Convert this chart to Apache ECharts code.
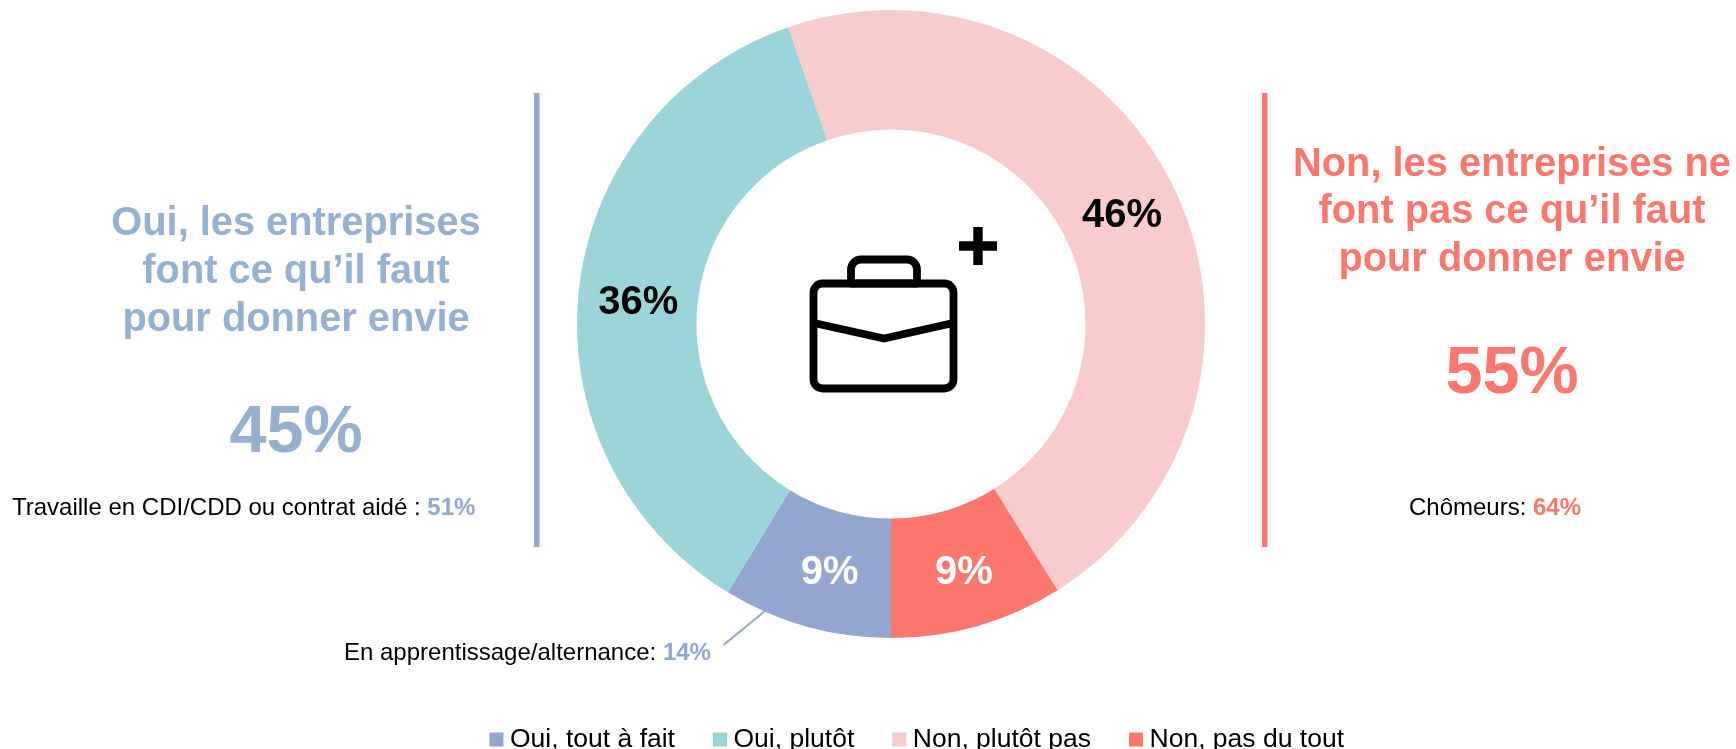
<!DOCTYPE html>
<html><head><meta charset="utf-8">
<style>html,body{margin:0;padding:0;background:#fff}#c{width:1736px;height:749px}</style>
<script src="https://cdn.jsdelivr.net/npm/echarts@6/dist/echarts.min.js"></script>
</head><body><div id="c"></div>
<script>
const categories = ['Oui, tout à fait', 'Oui, plutôt', 'Non, plutôt pas', 'Non, pas du tout'];
const values = [8.7, 36.0, 46.4, 8.9];
const colors = ['#92A6D0', '#9CD5D9', '#F8CBCC', '#FC786E'];
const labelColors = ['#fff', '#000', '#000', '#fff'];
const labelOffsets = [[8, 1], [3, 6], [-1, 3], [2, 2]];
const leftTitle = ['Oui, les entreprises', 'font ce qu’il faut', 'pour donner envie'];
const rightTitle = ['Non, les entreprises ne', 'font pas ce qu’il faut', 'pour donner envie'];
const BLUE = '#96B0CF', RED = '#FC786E', BAR_BLUE = '#92A6D0';
const FONT = '"Liberation Sans", Arial, sans-serif';

const chart = echarts.init(document.getElementById('c'), null, {renderer: 'canvas'});

function titleLines(lines, x, ys, color) {
  return lines.map((t, i) => ({type: 'text', x, y: ys[i], style: {text: t, fill: color,
    font: 'bold 39.8px ' + FONT, textAlign: 'center', textVerticalAlign: 'middle'}}));
}
function bigNum(t, x, y, color) {
  return {type: 'text', x, y, style: {text: t, fill: color, font: 'bold 66.5px ' + FONT, textAlign: 'center', textVerticalAlign: 'middle'}};
}
function sub(label, pct, x, y, color, align) {
  return {type: 'text', x, y, style: {
    text: '{a|' + label + '}{b|' + pct + '}', textAlign: align, textVerticalAlign: 'middle',
    rich: {a: {font: '24px ' + FONT, fill: '#000'}, b: {font: 'bold 24px ' + FONT, fill: color}}
  }};
}
const iconStroke = {stroke: '#000', lineWidth: 7.8, fill: null, lineJoin: 'round'};

chart.setOption({
  animation: false,
  backgroundColor: '#fff',
  legend: {
    data: categories, left: 484.5, top: 721, icon: 'rect', itemWidth: 14, itemHeight: 14, itemGap: 38,
    textStyle: {fontFamily: FONT, fontSize: 26.5, color: '#000', padding: [0, 0, 0, 1.5]}
  },
  series: [{
    type: 'pie', center: [891, 324], radius: [194.5, 314], startAngle: 270, clockwise: true,
    avoidLabelOverlap: false, silent: true,
    label: {position: 'inside', fontFamily: FONT, fontSize: 40, fontWeight: 'bold',
      formatter: p => Math.round(p.value) + '%'},
    labelLine: {show: false},
    data: categories.map((n, i) => ({name: n, value: values[i],
      itemStyle: {color: colors[i]}, label: {color: labelColors[i], offset: labelOffsets[i]}}))
  }],
  graphic: [
    {type: 'rect', shape: {x: 534, y: 93, width: 5.5, height: 454}, style: {fill: BAR_BLUE}},
    {type: 'rect', shape: {x: 1262, y: 93, width: 5.5, height: 454}, style: {fill: RED}},
    ...titleLines(leftTitle, 296, [224.5, 272.5, 320.5], BLUE),
    ...titleLines(rightTitle, 1512, [165, 212.5, 260.5], RED),
    bigNum('45%', 296, 434, BLUE),
    bigNum('55%', 1512, 375, RED),
    sub('Travaille en CDI/CDD ou contrat aidé : ', '51%', 12, 508, BAR_BLUE, 'left'),
    sub('Chômeurs: ', '64%', 1495, 508, RED, 'center'),
    sub('En apprentissage/alternance: ', '14%', 344, 653, BAR_BLUE, 'left'),
    {type: 'line', shape: {x1: 765, y1: 611, x2: 723.5, y2: 645}, style: {stroke: BAR_BLUE, lineWidth: 2}},
    // briefcase icon
    {type: 'rect', shape: {x: 813.5, y: 283.5, width: 140, height: 105, r: 9}, style: iconStroke},
    {type: 'rect', shape: {x: 851, y: 259.5, width: 66, height: 24, r: [10, 10, 0, 0]}, style: iconStroke},
    {type: 'polyline', shape: {points: [[814, 323], [884, 338.5], [953, 323]]}, style: Object.assign({}, iconStroke, {lineJoin: 'miter'})},
    {type: 'rect', shape: {x: 973.3, y: 227, width: 9.4, height: 38}, style: {fill: '#000'}},
    {type: 'rect', shape: {x: 959, y: 241.3, width: 38, height: 9.4}, style: {fill: '#000'}}
  ]
});
</script></body></html>
